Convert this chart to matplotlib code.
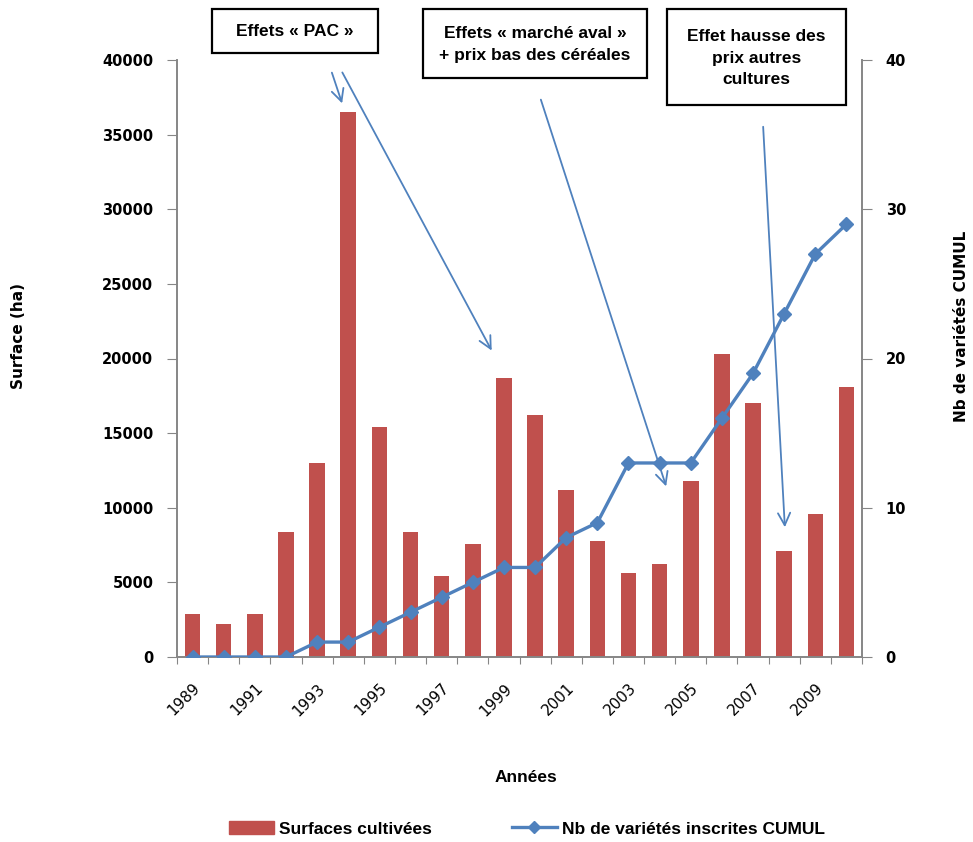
import matplotlib
matplotlib.use("Agg")
import matplotlib.pyplot as plt
from matplotlib.patches import Rectangle, Patch, FancyArrowPatch
from matplotlib.lines import Line2D

# data
years = list(range(1989, 2011))
surfaces = [2900, 2200, 2900, 8400, 13000, 36500, 15400, 8400, 5400, 7600, 18700,
            16200, 11200, 7800, 5600, 6200, 11800, 20300, 17000, 7100, 9600, 18100]
varietes = [0, 0, 0, 0, 1, 1, 2, 3, 4, 5, 6, 6, 8, 9, 13, 13, 13, 16, 19, 23, 27, 29]
surf_ticks = [0, 5000, 10000, 15000, 20000, 25000, 30000, 35000, 40000]
var_ticks = [0, 10, 20, 30, 40]

bar_col = "#C0504D"
line_col = "#4F81BD"
axis_col = "#868686"
W, H = 973, 842

plt.rcParams['font.family'] = ['Liberation Sans', 'DejaVu Sans']

fig = plt.figure(figsize=(W / 100, H / 100), dpi=100)
ax = fig.add_axes([177 / W, 1 - 657 / H, (862 - 177) / W, (657 - 60) / H])
ax2 = ax.twinx()

x = list(range(len(years)))
ax.bar(x, surfaces, width=0.5, color=bar_col, zorder=2)
ax2.plot(x, varietes, color=line_col, lw=2.4, marker="D", markersize=7,
         zorder=3)

ax.set_xlim(-0.5, len(years) - 0.5)
ax.set_ylim(0, 40000)
ax2.set_ylim(0, 40)
ax.set_yticks(surf_ticks)
ax2.set_yticks(var_ticks)
ax.set_yticklabels([str(v) for v in surf_ticks], fontfamily="DejaVu Sans",
                   fontweight="bold", fontsize=10.5)
ax2.set_yticklabels([str(v) for v in var_ticks], fontfamily="DejaVu Sans",
                    fontweight="bold", fontsize=10.5)

# tick marks between categories, labels every two years
ax.set_xticks([i - 0.5 for i in range(len(years) + 1)])
ax.set_xticklabels([])
ax.set_xticks(x[::2], minor=True)
ax.set_xticklabels([str(y) for y in years[::2]], minor=True, rotation=45,
                   ha="right", va="top", rotation_mode="anchor",
                   fontfamily="DejaVu Sans", fontsize=11)
ax.tick_params(axis="x", which="minor", length=0, pad=17)
ax.tick_params(axis="x", which="major", length=5, color=axis_col)
ax.tick_params(axis="y", length=7, color=axis_col, pad=10)
ax2.tick_params(axis="y", length=7, color=axis_col, pad=10)

for a in (ax, ax2):
    a.spines["top"].set_visible(False)
    for s in ("left", "right", "bottom"):
        a.spines[s].set_color(axis_col)
        a.spines[s].set_linewidth(1.2)

fig.text(19 / W, 1 - 336 / H, "Surface (ha)", rotation=90, ha="center",
         va="center", fontsize=11, fontweight="bold", fontfamily="DejaVu Sans")
fig.text(962 / W, 1 - 326 / H, "Nb de variétés CUMUL", rotation=90,
         ha="center", va="center", fontsize=11, fontweight="bold",
         fontfamily="DejaVu Sans")
fig.text(526 / W, 1 - 778 / H, "Années", ha="center", va="center",
         fontsize=12.5, fontweight="bold")


def fpos(px, py):
    return (px / W, 1 - py / H)


# annotation boxes
boxes = [
    ((212, 9, 378, 53), "Effets « PAC »"),
    ((423, 9, 647, 78), "Effets « marché aval »\n+ prix bas des céréales"),
    ((667, 9, 846, 105), "Effet hausse des\nprix autres\ncultures"),
]
for (x0, y0, x1, y1), txt in boxes:
    fig.add_artist(Rectangle(fpos(x0, y1), (x1 - x0) / W, (y1 - y0) / H,
                             transform=fig.transFigure, fill=False,
                             edgecolor="black", lw=1.6))
    fig.text(*fpos((x0 + x1) / 2, (y0 + y1) / 2 + 1), txt, ha="center",
             va="center", fontsize=12.5, fontweight="bold", linespacing=1.55)

# arrows
arrows = [
    ((331, 70), (343, 106)),
    ((341, 70), (493, 353)),
    ((540, 97), (667, 489)),
    ((763, 124), (785, 530)),
]
for tail, head in arrows:
    fig.add_artist(FancyArrowPatch(
        fpos(*tail), fpos(*head), transform=fig.transFigure,
        arrowstyle="->", mutation_scale=22, color=line_col, lw=1.3))

# legend
handles = [Patch(color=bar_col),
           Line2D([], [], color=line_col, lw=2.4, marker="D", markersize=6)]
fig.legend(handles, ["Surfaces cultivées", "Nb de variétés inscrites CUMUL"],
           loc="center", bbox_to_anchor=fpos(527, 829), ncol=2,
           frameon=False, prop={"size": 12.5, "weight": "bold"},
           columnspacing=4.6, handlelength=2.6, handletextpad=0.3)

fig.savefig("out.png", dpi=100)
